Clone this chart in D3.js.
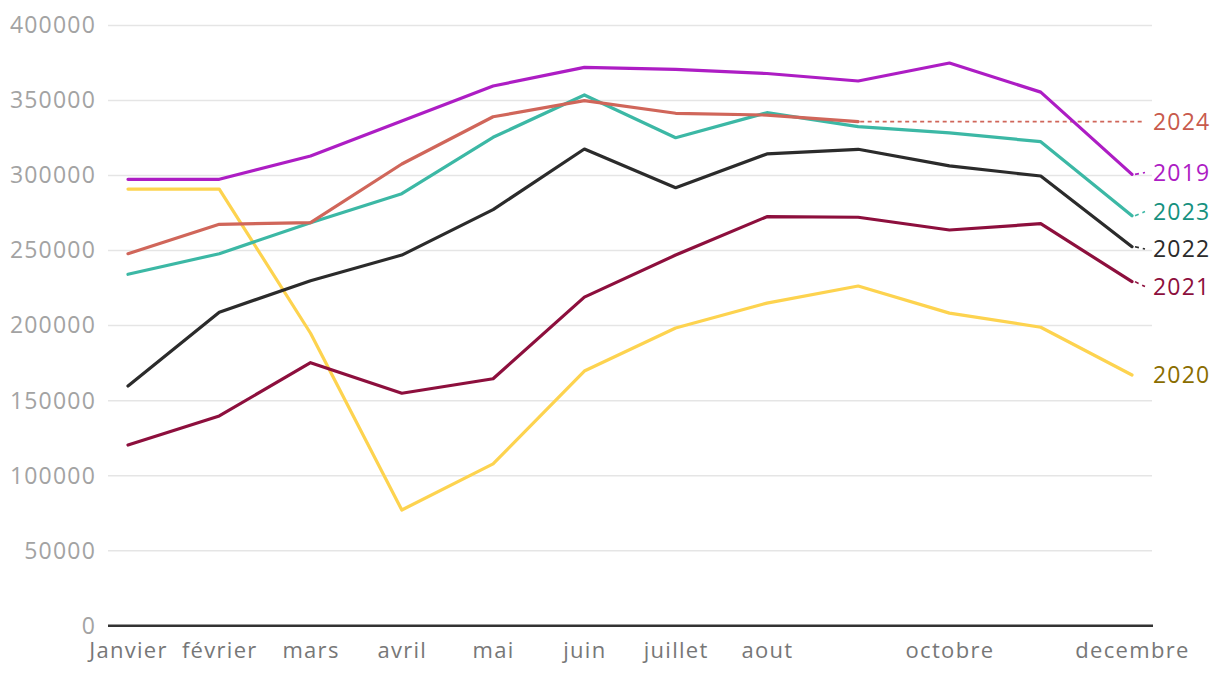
<!DOCTYPE html>
<html><head><meta charset="utf-8">
<script src="https://cdn.jsdelivr.net/npm/d3@7"></script>
<style>
body{margin:0;background:#fff;}
svg{display:block;font-family:"Open Sans",sans-serif;}
</style></head>
<body><svg id="c" width="1220" height="678"></svg>
<script>
const months = ["Janvier","février","mars","avril","mai","juin","juillet","aout","septembre","octobre","novembre","decembre"];
const monthLabels = ["Janvier","février","mars","avril","mai","juin","juillet","aout","","octobre","","decembre"];
const yTicks = [0,50000,100000,150000,200000,250000,300000,350000,400000];
const years = ["2019","2020","2021","2022","2023","2024"];
const v2019 = [297500,297500,313000,336300,359700,372100,370800,368000,363000,375000,355600,300800];
const v2020 = [291000,291000,194900,77100,107800,169700,198400,215000,226400,208300,198900,167100];
const v2021 = [120400,139800,175300,154900,164600,219000,247000,272600,272200,263700,267900,229300];
const v2022 = [159700,208900,229900,247000,277300,317700,291900,314400,317500,306400,299700,252600];
const v2023 = [234200,247900,268600,287900,325500,353700,325200,341900,332600,328400,322600,273200];
const v2024 = [247900,267500,268600,307700,339200,349900,341500,340300,335900];
const lineColors = ["#ad1dc4","#fdd34f","#8d0f3d","#2b2b2b","#3cb8a5","#d0665a"];
const labelColors = ["#ad1dc4","#8a6d00","#8d0f3d","#2b2b2b","#16917f","#c85a4c"];
const labelValues = [302000,167000,226000,251000,276000,336000];

const series = [v2019,v2020,v2021,v2022,v2023,v2024];
const svg = d3.select("#c");
const x = d3.scalePoint().domain(months).range([128,1132]);
const y = d3.scaleLinear().domain([0,400000]).range([625.7,25.5]);
const gx0 = 108, gx1 = 1152;

svg.append("g").selectAll("line").data(yTicks.filter(d=>d>0)).join("line")
  .attr("x1",gx0).attr("x2",gx1).attr("y1",d=>y(d)).attr("y2",d=>y(d))
  .attr("stroke","#e5e5e5").attr("stroke-width",1.5);

const ya = svg.append("g").attr("transform",`translate(${gx0},0)`)
  .call(d3.axisLeft(y).tickValues(yTicks).tickFormat(d=>String(d)).tickSize(0).tickPadding(12));
ya.select(".domain").remove();
ya.selectAll("text").attr("font-size",23).attr("fill","#a3a3a3").attr("font-family","'Open Sans',sans-serif").attr("letter-spacing","1.2px");

const xa = svg.append("g").attr("transform",`translate(0,${y(0)})`)
  .call(d3.axisBottom(x).tickFormat((d,i)=>monthLabels[i]).tickSize(0).tickPadding(17));
xa.select(".domain").remove();
xa.selectAll("text").attr("font-size",22).attr("fill","#777").attr("font-family","'Open Sans',sans-serif").attr("letter-spacing","1.3px");
svg.append("line").attr("x1",gx0).attr("x2",gx1+1).attr("y1",y(0)).attr("y2",y(0))
  .attr("stroke","#333").attr("stroke-width",2.5);

const line = d3.line().x((d,i)=>x(months[i])).y(d=>y(d));

series.forEach((s,k)=>{
  if (years[k]==="2020") return;
  const last = s.length-1;
  const x0 = x(months[last]);
  const isDotted = (years[k]==="2024");
  svg.append("line")
    .attr("x1",x0+(isDotted?2:3)).attr("y1",y(isDotted?labelValues[k]:s[last]))
    .attr("x2",isDotted?1142:1145).attr("y2",y(labelValues[k]))
    .attr("stroke",lineColors[k]).attr("stroke-width",isDotted?1.8:1.6)
    .attr("stroke-dasharray",isDotted?"4,3.5":"4,4");
});

series.forEach((s,k)=>{
  svg.append("path").datum(s).attr("d",line).attr("fill","none")
    .attr("stroke",lineColors[k]).attr("stroke-width",3.2)
    .attr("stroke-linejoin","round").attr("stroke-linecap","round");
});

svg.append("g").selectAll("text").data(years).join("text")
  .attr("x",1153).attr("y",(d,k)=>y(labelValues[k])).attr("dy","0.36em")
  .attr("font-size",23).attr("letter-spacing","1.2px").attr("fill",(d,k)=>labelColors[k]).text(d=>d);
</script></body></html>
